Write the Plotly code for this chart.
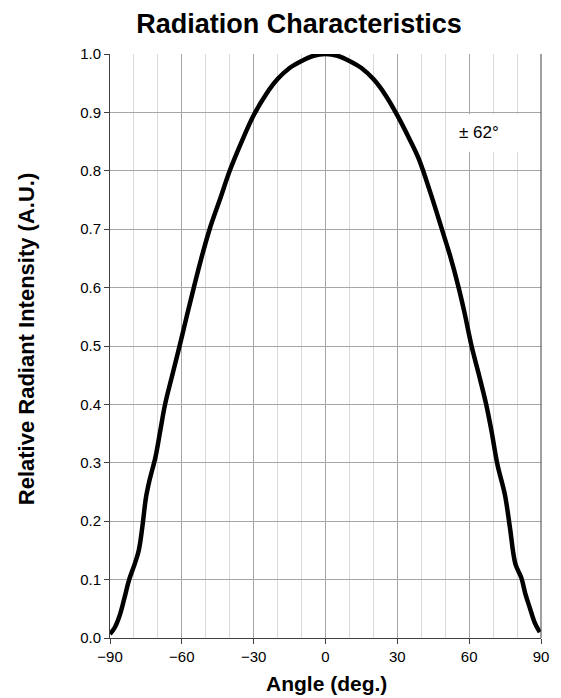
import plotly.graph_objects as go

angles = [-90, -88, -86, -84, -82, -80, -78, -76.5, -75, -73.5, -71, -69, -67, -64, -61, -58, -55,
          -52, -48.4, -44, -40, -35, -30, -25, -20, -15, -10, -5, 0,
          5, 10, 15, 20, 25, 30, 35, 39, 44, 48.6, 52, 55.6, 58, 61, 64, 67, 69.3, 71.8, 74.9,
          77, 79.3, 81.8, 83.5, 85.3, 87.5, 89.5]
intensity = [0.007, 0.018, 0.038, 0.068, 0.1, 0.123, 0.15, 0.19, 0.24, 0.27, 0.31, 0.355, 0.40,
             0.45, 0.499, 0.55, 0.60, 0.648, 0.70, 0.752, 0.80, 0.85, 0.895, 0.93, 0.957, 0.976,
             0.988, 0.997, 1.0,
             0.997, 0.988, 0.976, 0.957, 0.93, 0.895, 0.855, 0.82, 0.76, 0.70, 0.655, 0.60, 0.558,
             0.50, 0.452, 0.402, 0.355, 0.297, 0.246, 0.19, 0.127, 0.103, 0.075, 0.052, 0.025, 0.01]

x_ticks = [-90, -60, -30, 0, 30, 60, 90]
y_ticks = [0.0, 0.1, 0.2, 0.3, 0.4, 0.5, 0.6, 0.7, 0.8, 0.9, 1.0]
half_angle_label = "\u00b1 62\u00b0"

FONT = "Liberation Sans, Arial, sans-serif"

fig = go.Figure()
fig.add_trace(go.Scatter(x=angles, y=intensity, mode="lines",
                         line=dict(color="black", width=4.5, shape="spline", smoothing=1.0),
                         showlegend=False, hoverinfo="skip"))

fig.update_layout(
    width=561, height=698,
    margin=dict(l=110, r=18, t=54, b=60),
    paper_bgcolor="white", plot_bgcolor="white",
    font=dict(family=FONT, color="black", size=15),
    title=dict(text="<b>Radiation Characteristics</b>", x=0.533, xanchor="center",
               y=0.9656, yanchor="middle", font=dict(size=27, family=FONT, color="black")),
    xaxis=dict(range=[-90, 90], tickvals=x_ticks,
               ticktext=[("\u2212" + str(-v)) if v < 0 else str(v) for v in x_ticks],
               showgrid=True, gridcolor="#a6a6a6", gridwidth=1,
               minor=dict(dtick=10, tick0=0, showgrid=True, gridcolor="#d9d9d9", gridwidth=1),
               showline=True, linecolor="#404040", linewidth=1,
               ticks="outside", ticklen=5, tickcolor="#404040",
               zeroline=False, tickfont=dict(size=15, family=FONT)),
    yaxis=dict(range=[0, 1.0], tickvals=y_ticks, tickformat=".1f",
               showgrid=True, gridcolor="#a6a6a6", gridwidth=1,
               showline=True, linecolor="#404040", linewidth=1,
               ticks="outside", ticklen=5, tickcolor="#404040",
               zeroline=False, tickfont=dict(size=15, family=FONT)),
)

# axis titles
fig.add_annotation(text="<b>Angle (deg.)</b>", xref="paper", yref="paper",
                   x=(328 - 110) / 433, y=(638 - 683) / 583.7, showarrow=False,
                   xanchor="center", yanchor="middle", font=dict(size=21, family=FONT, color="black"))
fig.add_annotation(text="<b>Relative Radiant Intensity (A.U.)</b>", xref="paper", yref="paper",
                   x=(26 - 110) / 433, y=(638 - 339) / 583.7, showarrow=False, textangle=-90,
                   xanchor="center", yanchor="middle", font=dict(size=22, family=FONT, color="black"))

# right border
fig.add_shape(type="line", xref="paper", yref="paper", x0=1, x1=1, y0=0, y1=1,
              line=dict(color="#404040", width=1))
# white label box
fig.add_shape(type="rect", xref="x", yref="y", x0=57, x1=89.7, y0=0.8325, y1=0.897,
              fillcolor="white", line=dict(width=0), layer="between")
fig.add_annotation(x=64, y=0.865, xref="x", yref="y", text=half_angle_label, showarrow=False,
                   font=dict(size=17, family=FONT, color="black"))

fig.write_html("out.html")
